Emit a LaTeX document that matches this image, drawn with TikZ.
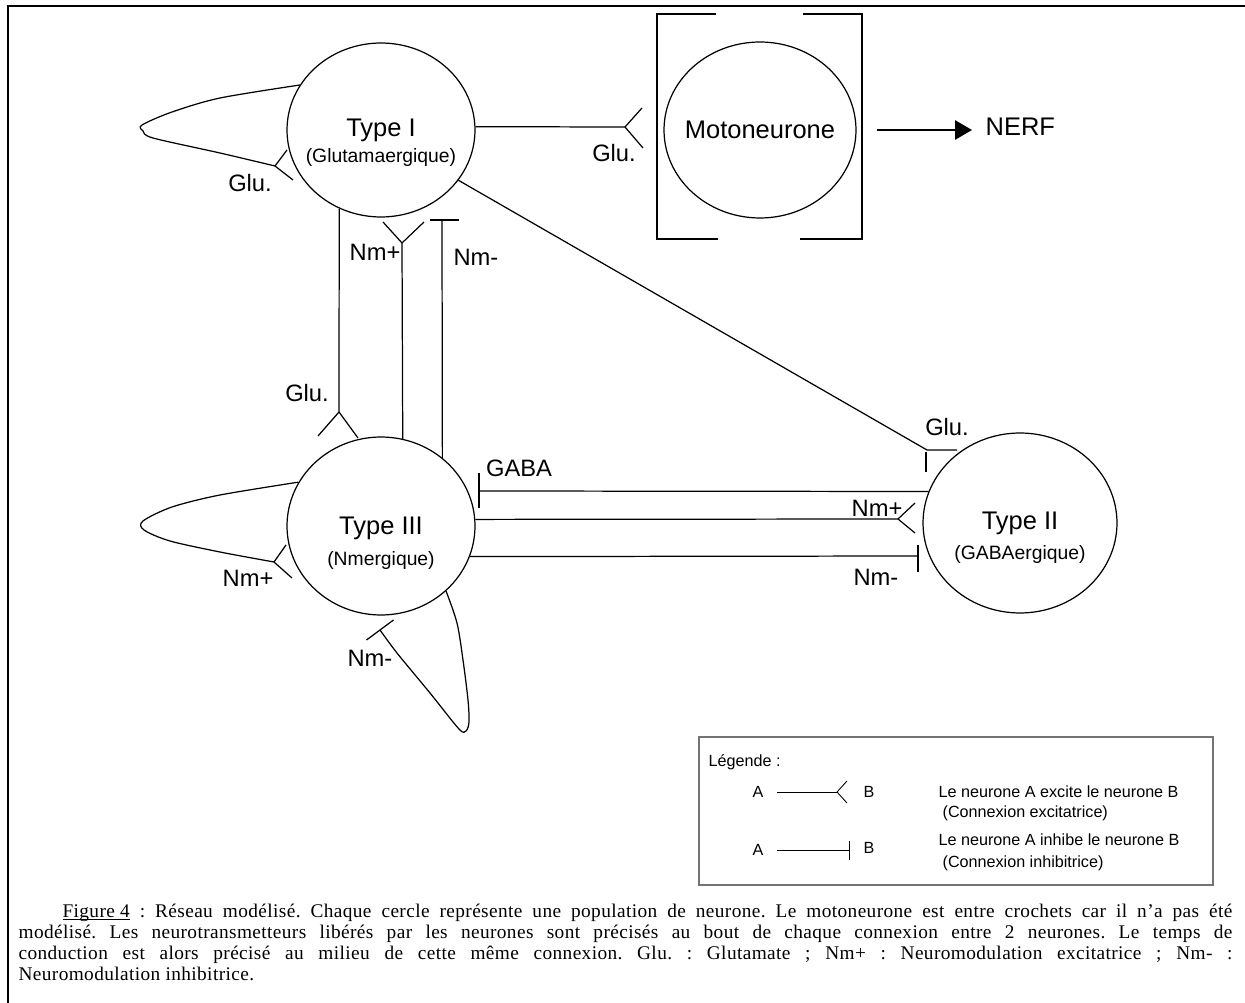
\documentclass[tikz,border=0pt]{standalone}
\usepackage{fontspec}
\setmainfont{Liberation Sans}
\newfontfamily\capfont[LetterSpace=2]{Liberation Serif}
\usetikzlibrary{shapes.geometric,arrows.meta}

\begin{document}
\begin{tikzpicture}[x=0.02cm, y=-0.02cm, line width=0.7pt,
		neurone/.style={ellipse, draw, inner sep=0pt},
		titre/.style={font=\fontsize{14.5}{16}\selectfont, inner sep=0pt},
		sous/.style={font=\fontsize{11}{13}\selectfont, inner sep=0pt},
		etiq/.style={font=\fontsize{13.5}{15}\selectfont, inner sep=0pt},
		leg/.style={font=\fontsize{9.2}{11}\selectfont, inner sep=0pt}]
		\useasboundingbox (0,0) rectangle (1245,1003);
		\draw[line width=1.2pt] (8,1003) -- (8,6) -- (1245,6);

		\node[neurone, minimum width=3.76cm, minimum height=3.48cm] (t1) at (381,130) {};
		\node[neurone, minimum width=3.84cm, minimum height=3.52cm] (moto) at (760,130) {};
		\node[neurone, minimum width=3.88cm, minimum height=3.6cm] (t2) at (1020,523) {};
		\node[neurone, minimum width=3.76cm, minimum height=3.56cm] (t3) at (381,526) {};

		\node[titre] (t1a) at (381,130) {Type I};
		\node[sous]  (t1b) at (381,158) {(Glutamaergique)};
		\node[titre] (motoa) at (760,130) {Motoneurone};
		\node[titre] (t2a) at (1020,523) {Type II};
		\node[sous]  (t2b) at (1020,555) {(GABAergique)};
		\node[titre] (t3a) at (381,528) {Type III};
		\node[sous]  (t3b) at (381,561) {(Nmergique)};

		\draw (716,14) -- (657,14) -- (657,239) -- (718,239);
		\draw (803,14) -- (862,14) -- (862,239) -- (800,239);

		\node[titre, anchor=west] (nerf) at (985,127) {NERF};
		\draw[-{Triangle[length=9.6pt,width=11pt]}] ([xshift=0.4cm]moto.east) -- ([xshift=-0.26cm]nerf.west |- moto.east);

		\coordinate (gm) at (625,127);
		\draw (t1.2) -- (gm);
		\draw (gm) -- ++(17,-19) (gm) -- ++(18,21);
		\node[etiq] (lgm) at (614,153) {Glu.};

		\coordinate (g1) at (275,166);
		\draw plot[smooth] coordinates {(t1.151) (220,98) (172,112) (142,125) (143,131) (153,138) (220,153) (g1)};
		\draw (g1) -- ++(12,-16) (g1) -- ++(18,14);
		\node[etiq] (lg1) at (250,183) {Glu.};

		\coordinate (g3) at (339,412);
		\draw (t1.242) -- (g3);
		\draw (g3) -- ++(-21,24) (g3) -- ++(19,26);
		\node[etiq] (lg3) at (307,393) {Glu.};

		\coordinate (p1) at (402,243);
		\draw (t3.76) -- (p1);
		\draw (p1) -- ++(-19,-21) (p1) -- ++(22,-21);
		\node[etiq] (lp1) at (375,252) {Nm+};

		\coordinate (m1) at (442,220);
		\draw (t3.48) -- (m1);
		\draw (m1) ++(-12,0) -- ++(29,0);
		\node[etiq] (lm1) at (476,257) {Nm-};

		\coordinate (g2) at (927,450);
		\draw (t1.-33) -- (g2) -- ++(30,0);
		\draw (g2) ++(-1,2) -- ++(0,20);
		\node[etiq] (lg2) at (947,427) {Glu.};

		\coordinate (ga) at (479,491);
		\draw (t2.161) -- (ga);
		\draw (ga) ++(0,-18) -- ++(0,35);
		\node[etiq] (lga) at (519,468) {GABA};

		\coordinate (p2) at (898,519);
		\draw (t3.4) -- (p2);
		\draw (p2) -- ++(17,-16) (p2) -- ++(17,14);
		\node[etiq] (lp2) at (877,508) {Nm+};

		\coordinate (m2) at (918,556);
		\draw (t3.-19) -- (m2);
		\draw (m2) ++(0,-11) -- ++(0,27);
		\node[etiq] (lm2) at (876,577) {Nm-};

		\coordinate (p3) at (274,562);
		\draw plot[smooth] coordinates {(t3.152) (220,495) (172,507) (143,521) (144,530) (170,541) (220,552) (p3)};
		\draw (p3) -- ++(12,-17) (p3) -- ++(18,16);
		\node[etiq] (lp3) at (248,578) {Nm+};

		\coordinate (m3) at (380,630);
		\draw plot[smooth] coordinates {(t3.-45) (457,623) (463,660) (468,700) (469,722) (466,731) (459,729) (430,693) (397,653) (m3)};
		\draw (m3) ++(-13.5,10) -- ++(27,-20);
		\node[etiq] (lm3) at (370,658) {Nm-};

		\draw[gray!90!black, line width=0.6pt] (699,737) rectangle (1213,885);
		\node[leg, anchor=west] (lt) at (708,762) {Légende :};
		\node[leg] (la1) at (758,792) {A};
		\node[leg] (lb1) at (869,792) {B};
		\coordinate (lx1) at (837,792);
		\draw[line width=0.5pt] ([xshift=0.38cm]la1.center) -- (lx1);
		\draw[line width=0.5pt] (lx1) -- ++(10,-11) (lx1) -- ++(10,11);
		\node[leg, anchor=west] (ld1) at (938,792) {Le neurone A excite le neurone B};
		\node[leg, anchor=west] (le1) at (942,813) {(Connexion excitatrice)};
		\node[leg] (la2) at (758,850) {A};
		\node[leg] (lb2) at (869,848) {B};
		\coordinate (lx2) at (849,850);
		\draw[line width=0.5pt] ([xshift=0.38cm]la2.center) -- (lx2);
		\draw[line width=0.5pt] (lx2) ++(0,-9) -- ++(0,19);
		\node[leg, anchor=west] (ld2) at (938,840) {Le neurone A inhibe le neurone B};
		\node[leg, anchor=west] (le2) at (942,863) {(Connexion inhibitrice)};

		\node[anchor=north west, inner sep=0pt, text width=24.28cm, align=justify,
		font=\capfont\fontsize{11}{12.1}\selectfont\frenchspacing] (cap) at (18,903)
		{\hspace*{25pt}\underline{\smash{Figure 4}} : Réseau modélisé. Chaque cercle représente une population de neurone. Le motoneurone est entre crochets car il n’a pas été\linebreak
		modélisé. Les neurotransmetteurs libérés par les neurones sont précisés au bout de chaque connexion entre 2 neurones. Le temps de\linebreak
		conduction est alors précisé au milieu de cette même connexion. Glu. : Glutamate ; Nm+ : Neuromodulation excitatrice ; Nm- :\linebreak
		Neuromodulation inhibitrice.};
		\end{tikzpicture}
\end{document}
